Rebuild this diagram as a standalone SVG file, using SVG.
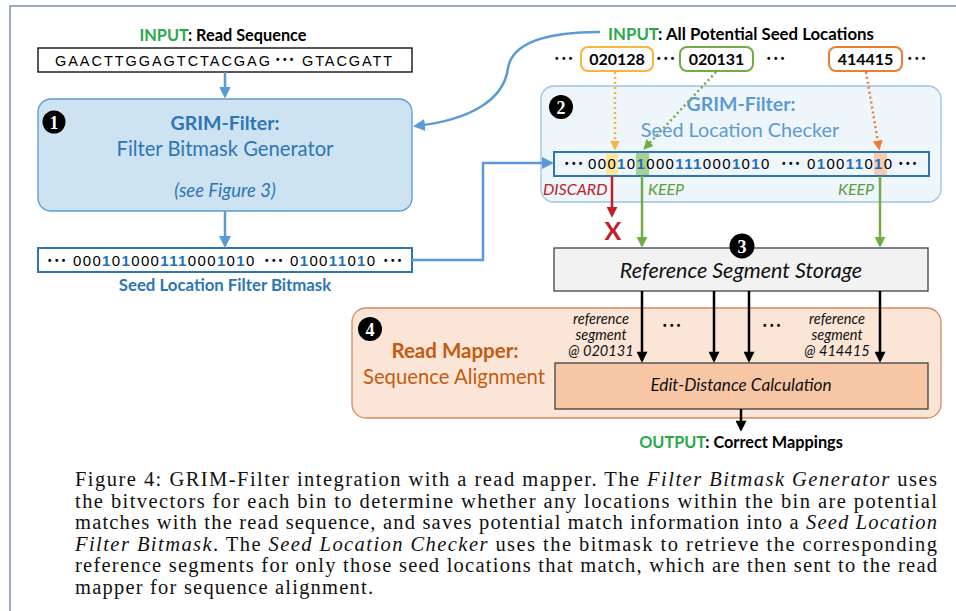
<svg xmlns="http://www.w3.org/2000/svg" width="956" height="611" viewBox="0 0 956 611">
<style>
.cal{font-family:Lato,"Open Sans",sans-serif}
.ar{font-family:"Liberation Sans",Arial,sans-serif}
.b{font-weight:bold}
.i{font-style:italic}
.mid{text-anchor:middle}
.blue1{fill:#2e75b6}
.blue2{fill:#5b9bd5}
.green{fill:#2aa84a}
.one{fill:#1f6fc0;font-weight:bold}
.dots{font-family:"Liberation Sans",Arial,sans-serif;font-size:10px;font-weight:bold;letter-spacing:3.4px}
.badge{fill:#000}
.badgetxt{fill:#fff;font-family:"Liberation Serif",serif;font-weight:bold;font-size:18px;text-anchor:middle}
.cap{font-family:"Liberation Serif","Times New Roman",serif;font-size:20.5px;fill:#111}
.seg{font-size:14.6px;fill:#111}
</style>
<defs>
<marker id="mBlue" viewBox="0 0 10 10" refX="7.5" refY="5" markerWidth="12" markerHeight="12" markerUnits="userSpaceOnUse" orient="auto"><path d="M0,0 L10,5 L0,10 z" fill="#5b9bd5"/></marker>
<marker id="mGreen" viewBox="0 0 10 10" refX="7.5" refY="5" markerWidth="11" markerHeight="11" markerUnits="userSpaceOnUse" orient="auto"><path d="M0,0 L10,5 L0,10 z" fill="#70ad47"/></marker>
<marker id="mRed" viewBox="0 0 10 10" refX="7.5" refY="5" markerWidth="11" markerHeight="11" markerUnits="userSpaceOnUse" orient="auto"><path d="M0,0 L10,5 L0,10 z" fill="#c0202a"/></marker>
<marker id="mBlack" viewBox="0 0 10 10" refX="7.5" refY="5" markerWidth="12" markerHeight="11" markerUnits="userSpaceOnUse" orient="auto"><path d="M0,0 L10,5 L0,10 z" fill="#000"/></marker>
<marker id="mYellow" viewBox="0 0 10 10" refX="7.5" refY="5" markerWidth="10" markerHeight="10" markerUnits="userSpaceOnUse" orient="auto"><path d="M0,0 L10,5 L0,10 z" fill="#f4b63f"/></marker>
<marker id="mGreenD" viewBox="0 0 10 10" refX="7.5" refY="5" markerWidth="10" markerHeight="10" markerUnits="userSpaceOnUse" orient="auto"><path d="M0,0 L10,5 L0,10 z" fill="#70ad47"/></marker>
<marker id="mOrange" viewBox="0 0 10 10" refX="7.5" refY="5" markerWidth="10" markerHeight="10" markerUnits="userSpaceOnUse" orient="auto"><path d="M0,0 L10,5 L0,10 z" fill="#ed7d31"/></marker>
</defs>

<rect width="956" height="611" fill="#fff"/>
<path d="M10,611 V6 H956" fill="none" stroke="#7b8fae" stroke-width="1.5"/>

<g id="input-read">
<text class="cal b mid" x="223" y="41" font-size="16.3"><tspan class="green">INPUT</tspan>: Read Sequence</text>
<rect x="38" y="48" width="374" height="24" fill="#fff" stroke="#000" stroke-width="1.3"/>
<text class="ar" x="55" y="66" font-size="14.5" textLength="215" lengthAdjust="spacing">GAACTTGGAGTCTACGAG</text>
<text class="dots" x="276" y="63">•••</text>
<text class="ar" x="302" y="66" font-size="14.5" textLength="90" lengthAdjust="spacing">GTACGATT</text>
</g>

<g id="filter-bitmask-generator">
<rect x="38" y="99" width="374" height="112" rx="13" fill="#cde3f1" stroke="#5b9bd5" stroke-width="1.3"/>
<circle class="badge" cx="54" cy="122" r="11.5"/>
<text class="badgetxt" x="54" y="128.5">1</text>
<text class="cal b mid blue1" x="225" y="130" font-size="19.5">GRIM-Filter:</text>
<text class="cal mid blue1" x="225" y="156" font-size="20.2">Filter Bitmask Generator</text>
<text class="cal i mid blue1" x="225" y="197" font-size="18.5">(see Figure 3)</text>
</g>

<g id="seed-location-filter-bitmask">
<rect x="38" y="248" width="374" height="24" fill="#fff" stroke="#2e75b6" stroke-width="2"/>
<text class="dots" x="48" y="263.5">•••</text>
<text class="ar" x="73" y="265.5" font-size="15" letter-spacing="1.36">000<tspan class="one">1</tspan>0<tspan class="one">1</tspan>000<tspan class="one">111</tspan>000<tspan class="one">1</tspan>0<tspan class="one">1</tspan>0</text>
<text class="dots" x="265" y="263.5">•••</text>
<text class="ar" x="290" y="265.5" font-size="15" letter-spacing="1.36">0<tspan class="one">1</tspan>00<tspan class="one">11</tspan>0<tspan class="one">1</tspan>0</text>
<text class="dots" x="384" y="263.5">•••</text>
<text class="cal b mid blue1" x="225" y="291" font-size="16.8">Seed Location Filter Bitmask</text>
</g>

<g id="input-seed-locations">
<text class="cal b mid" x="741" y="40" font-size="16.8"><tspan class="green">INPUT</tspan>: All Potential Seed Locations</text>
<text class="dots" x="555" y="62" font-size="11">•••</text>
<rect x="581" y="47" width="72" height="24" rx="7" fill="#fff" stroke="#f4b63f" stroke-width="2"/>
<text class="cal b mid" x="617" y="64.5" font-size="16">020128</text>
<text class="dots" x="657" y="62" font-size="11">•••</text>
<rect x="680" y="47" width="73" height="24" rx="7" fill="#fff" stroke="#70ad47" stroke-width="2"/>
<text class="cal b mid" x="716.5" y="64.5" font-size="16">020131</text>
<text class="dots" x="767" y="62" font-size="11" letter-spacing="16">•••</text>
<rect x="829" y="47" width="73" height="24" rx="7" fill="#fff" stroke="#ed7d31" stroke-width="2"/>
<text class="cal b mid" x="865.5" y="64.5" font-size="16">414415</text>
<text class="dots" x="908" y="62" font-size="11">•••</text>
</g>

<g id="seed-location-checker">
<rect x="541" y="86" width="400" height="116" rx="13" fill="#eef5fb" stroke="#9dc3e6" stroke-width="1.3"/>
<circle class="badge" cx="561" cy="107" r="12"/>
<text class="badgetxt" x="561" y="113.5">2</text>
<text class="cal b mid blue2" x="741" y="111" font-size="19.5">GRIM-Filter:</text>
<text class="cal mid blue2" x="740" y="137" font-size="19.8">Seed Location Checker</text>
<rect x="606" y="153" width="12" height="22" fill="#ffe699"/>
<rect x="636" y="153" width="13" height="22" fill="#a9d18e"/>
<rect x="874" y="153" width="13" height="22" fill="#f8cbad"/>
<rect x="554" y="152" width="375" height="24" fill="none" stroke="#2e75b6" stroke-width="2"/>
<text class="dots" x="565" y="167">•••</text>
<text class="ar" x="588" y="169" font-size="15" letter-spacing="1.36">000<tspan class="one">1</tspan>0<tspan class="one">1</tspan>000<tspan class="one">111</tspan>000<tspan class="one">1</tspan>0<tspan class="one">1</tspan>0</text>
<text class="dots" x="782" y="167">•••</text>
<text class="ar" x="807" y="169" font-size="15" letter-spacing="1.36">0<tspan class="one">1</tspan>00<tspan class="one">11</tspan>0<tspan class="one">1</tspan>0</text>
<text class="dots" x="899" y="167">•••</text>
<text class="cal i" x="543" y="195" font-size="16" fill="#c0202a">DISCARD</text>
<text class="cal i" x="648" y="195" font-size="16" fill="#5e9e3a">KEEP</text>
<text class="cal i" x="838" y="195" font-size="16" fill="#5e9e3a">KEEP</text>
<text class="cal b mid" x="613" y="240" font-size="25" fill="#c0202a">X</text>
</g>

<g id="reference-segment-storage">
<rect x="554" y="248" width="374" height="43" fill="#f2f2f2" stroke="#404040" stroke-width="1.3"/>
<text class="cal i mid" x="741" y="278" font-size="21.5" fill="#111">Reference Segment Storage</text>
<circle class="badge" cx="742" cy="246" r="12.5"/>
<text class="badgetxt" x="742" y="252.5">3</text>
</g>

<g id="read-mapper">
<rect x="352" y="308" width="589" height="110" rx="14" fill="#fbe5d6" stroke="#d9895f" stroke-width="1.3"/>
<circle class="badge" cx="370" cy="329" r="12"/>
<text class="badgetxt" x="370" y="335.5">4</text>
<text class="cal b mid" x="455" y="358" font-size="20.5" fill="#c55a11">Read Mapper:</text>
<text class="cal mid" x="454" y="384" font-size="20.3" fill="#c55a11">Sequence Alignment</text>
<text class="cal i mid seg" x="601" y="324">reference</text>
<text class="cal i mid seg" x="601" y="340">segment</text>
<text class="cal i mid seg" x="601" y="356">@ 020131</text>
<text class="cal i mid seg" x="837" y="324">reference</text>
<text class="cal i mid seg" x="837" y="340">segment</text>
<text class="cal i mid seg" x="837" y="356">@ 414415</text>
<text class="dots" x="663" y="329" font-size="9" letter-spacing="13">•••</text>
<text class="dots" x="763" y="329" font-size="9" letter-spacing="13">•••</text>
</g>

<g id="edit-distance">
<rect x="555" y="363" width="373" height="46" fill="#f6c6a5" stroke="#404040" stroke-width="1.3"/>
<text class="cal i mid" x="741" y="391" font-size="17.2" fill="#111">Edit-Distance Calculation</text>
</g>

<g id="output">
<text class="cal b mid" x="741" y="448" font-size="16.3"><tspan class="green">OUTPUT</tspan>: Correct Mappings</text>
</g>

<g id="connectors" fill="none">
<path d="M225,72 V95.5" stroke="#5b9bd5" stroke-width="2.5" marker-end="url(#mBlue)"/>
<path d="M225,211 V245" stroke="#5b9bd5" stroke-width="2.5" marker-end="url(#mBlue)"/>
<path d="M600,32 C540,32 512,45 508,68 C504,100 470,120 416,126" stroke="#5b9bd5" stroke-width="2.5" marker-end="url(#mBlue)"/>
<path d="M412,260 H483 V163 H551" stroke="#5b9bd5" stroke-width="2.5" marker-end="url(#mBlue)"/>
<path d="M615,72 V148" stroke="#f4b63f" stroke-width="2.5" stroke-dasharray="2 3" marker-end="url(#mYellow)"/>
<path d="M716,72 L645,148" stroke="#70ad47" stroke-width="2.5" stroke-dasharray="2 3" marker-end="url(#mGreenD)"/>
<path d="M866,72 L879,148" stroke="#ed7d31" stroke-width="2.5" stroke-dasharray="2 3" marker-end="url(#mOrange)"/>
<path d="M612,176 V215" stroke="#c0202a" stroke-width="2.5" marker-end="url(#mRed)"/>
<path d="M642,176 V245" stroke="#70ad47" stroke-width="2.5" marker-end="url(#mGreen)"/>
<path d="M880,176 V245" stroke="#70ad47" stroke-width="2.5" marker-end="url(#mGreen)"/>
<path d="M642,291 V360" stroke="#000" stroke-width="2.5" marker-end="url(#mBlack)"/>
<path d="M714,291 V360" stroke="#000" stroke-width="2.5" marker-end="url(#mBlack)"/>
<path d="M749,291 V360" stroke="#000" stroke-width="2.5" marker-end="url(#mBlack)"/>
<path d="M880,291 V360" stroke="#000" stroke-width="2.5" marker-end="url(#mBlack)"/>
<path d="M741,409 V429" stroke="#000" stroke-width="2.5" marker-end="url(#mBlack)"/>
</g>

<g id="caption">
<text class="cap" x="75" y="486" textLength="862" lengthAdjust="spacing">Figure 4: GRIM-Filter integration with a read mapper. The <tspan class="i">Filter Bitmask Generator</tspan> uses</text>
<text class="cap" x="75" y="507.5" textLength="862" lengthAdjust="spacing">the bitvectors for each bin to determine whether any locations within the bin are potential</text>
<text class="cap" x="75" y="529" textLength="862" lengthAdjust="spacing">matches with the read sequence, and saves potential match information into a <tspan class="i">Seed Location</tspan></text>
<text class="cap" x="75" y="550.5" textLength="862" lengthAdjust="spacing"><tspan class="i">Filter Bitmask</tspan>. The <tspan class="i">Seed Location Checker</tspan> uses the bitmask to retrieve the corresponding</text>
<text class="cap" x="75" y="572" textLength="862" lengthAdjust="spacing">reference segments for only those seed locations that match, which are then sent to the read</text>
<text class="cap" x="75" y="593.5" textLength="298" lengthAdjust="spacing">mapper for sequence alignment.</text>
</g>
</svg>
